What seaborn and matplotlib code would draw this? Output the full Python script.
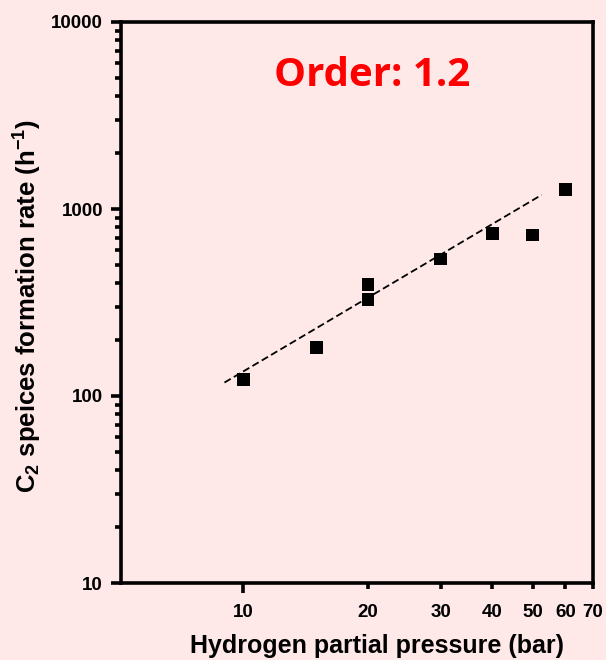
import numpy as np
import pandas as pd
import matplotlib
matplotlib.use("Agg")
import matplotlib.pyplot as plt
import matplotlib.ticker as mticker
import seaborn as sns

# data
pressure = [10, 15, 20, 20, 30, 40, 50, 60]
rate = [122, 181, 396, 329, 540, 741, 726, 1274]
fit_x = [9.0, 52.6]
fit_y = [118, 1190]
x_major = [10]
x_minor = [20, 30, 40, 50, 60, 70]
y_major = [10, 100, 1000, 10000]

BG = "#FEE8E8"
sns.set_theme(style="ticks")
plt.rcParams['font.family'] = ['Liberation Sans', 'DejaVu Sans']
plt.rcParams['font.weight'] = 'bold'
plt.rcParams['text.color'] = 'black'
plt.rcParams['axes.labelcolor'] = 'black'
plt.rcParams['xtick.color'] = 'black'
plt.rcParams['ytick.color'] = 'black'
plt.rcParams['mathtext.fontset'] = 'custom'
plt.rcParams['mathtext.rm'] = 'Liberation Sans:bold'
plt.rcParams['mathtext.bf'] = 'Liberation Sans:bold'
plt.rcParams['mathtext.it'] = 'Liberation Sans:bold'

fig = plt.figure(figsize=(6.06, 6.6), dpi=100, facecolor=BG)
ax = fig.add_axes([121/606, 1-583/660, 472/606, 561/660])
ax.set_facecolor(BG)

df = pd.DataFrame({"p": pressure, "r": rate})
fit = pd.DataFrame({"x": fit_x, "y": fit_y})

sns.lineplot(data=fit, x="x", y="y", ax=ax, color="black", lw=1.3,
             linestyle=(0, (4, 2)))
sns.scatterplot(data=df, x="p", y="r", ax=ax, marker="s", s=85,
                color="black", edgecolor="none", zorder=3)

ax.set_xscale("log")
ax.set_yscale("log")
ax.set_xlim(5.06, 70)
ax.set_ylim(10, 10000)

ax.xaxis.set_major_locator(mticker.FixedLocator(x_major))
ax.xaxis.set_minor_locator(mticker.FixedLocator(x_minor))
ax.xaxis.set_major_formatter(mticker.FixedFormatter([str(v) for v in x_major]))
ax.xaxis.set_minor_formatter(mticker.FixedFormatter([str(v) for v in x_minor]))
ax.yaxis.set_major_locator(mticker.FixedLocator(y_major))
ax.yaxis.set_major_formatter(mticker.FixedFormatter([str(v) for v in y_major]))
ax.yaxis.set_minor_locator(mticker.LogLocator(base=10, subs=np.arange(2, 10), numticks=20))
ax.yaxis.set_minor_formatter(mticker.NullFormatter())

for s in ax.spines.values():
    s.set_linewidth(2.6)
    s.set_color("black")

ax.tick_params(axis="both", which="major", direction="out", length=7, width=2.6,
               labelsize=13.5, pad=8, color="black", labelcolor="black")
ax.tick_params(axis="both", which="minor", direction="out", length=4, width=2.6,
               labelsize=13.5, pad=11, color="black", labelcolor="black")
ax.tick_params(axis="y", which="major", pad=6)
ax.tick_params(top=False, right=False, which="both")
for lab in ax.get_xticklabels(which="both") + ax.get_yticklabels():
    lab.set_fontweight("bold")

ax.set_xlabel("Hydrogen partial pressure (bar)", fontsize=18, fontweight="bold",
              color="black")
ax.xaxis.set_label_coords((377 - 121) / 472, -(634 - 583) / 561)
ax.set_ylabel(r"C$_{2}$ speices formation rate (h$^{-1}$)", fontsize=18.5,
              fontweight="bold", color="black")
ax.yaxis.set_label_coords(-(121 - 44) / 472, (583 - 306) / 561)

ax.text(0.532, 0.905, "Order: 1.2", transform=ax.transAxes, color="#FF0000",
        fontsize=29, fontweight="bold", family=["Open Sans", "DejaVu Sans"],
        ha="center", va="center")

fig.savefig("out.png", dpi=100, facecolor=BG)
